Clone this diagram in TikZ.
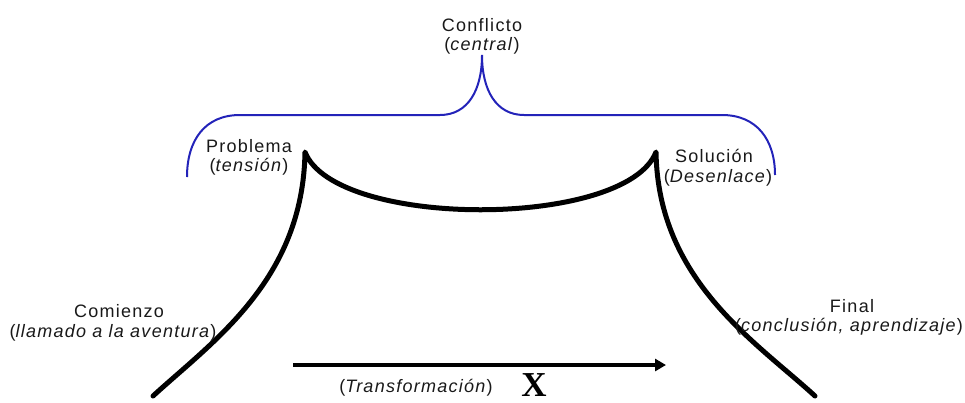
\documentclass[tikz,border=0pt]{standalone}
\usepackage{fontspec}
\setmainfont[LetterSpace=7]{Liberation Sans}
\newfontfamily\xfont{Liberation Serif}
\usetikzlibrary{arrows.meta}
\definecolor{bracecol}{RGB}{35,35,185}
\definecolor{txt}{RGB}{25,25,25}
\begin{document}
\begin{tikzpicture}[x=1pt,y=-1pt,
  lbl/.style={font=\fontsize{18}{20}\selectfont, text=txt, inner sep=0pt, anchor=base},
  story/.style={line width=5pt, line cap=round, line join=round},
  bracepath/.style={draw=bracecol, line width=2pt},
  arrowline/.style={line width=4pt, -{Triangle[length=11pt,width=12pt]}}
]
\useasboundingbox (0,0) rectangle (965,402);
% story curve
\coordinate (start) at (153,396);
\coordinate (prob) at (305,152);
\coordinate (sol) at (656,152);
\coordinate (fin) at (815,396);
\draw[story] (start) .. controls (213,341) and (303,280) .. (prob)
  .. controls (335,229) and (626,229) .. (sol)
  .. controls (658,280) and (755,341) .. (fin);
% brace
\coordinate (bl) at (187,177);
\coordinate (br) at (775,175);
\coordinate (tip) at (482,55);
\draw[bracepath] (bl) .. controls (187,140) and (205,115) .. (240,115) -- (440,115)
  .. controls (468,115) and (482,90) .. (tip)
  .. controls (482,90) and (496,115) .. (524,115) -- (722,115)
  .. controls (757,115) and (775,140) .. (br);
% arrow
\coordinate (a0) at (293,365);
\coordinate (a1) at (666,365);
\draw[arrowline] (a0) -- (a1);
% labels
\node[lbl] (conf1) at (482,31) {Conflicto};
\node[lbl] (conf2) at (482,50) {(\textit{central})};
\node[lbl] (prob1) at (249,152) {Problema};
\node[lbl] (prob2) at (249,171) {(\textit{tensión})};
\node[lbl] (sol1) at (714,162) {Solución};
\node[lbl] (sol2) at (718,182) {(\textit{Desenlace})};
\node[lbl] (com1) at (119,317) {Comienzo};
\node[lbl] (com2) at (113,337) {(\textit{llamado a la aventura})};
\node[lbl] (fin1) at (852,312) {Final};
\node[lbl] (fin2) at (849,331) {(\textit{conclusión, aprendizaje})};
\node[lbl] (trans) at (416,392) {(\textit{Transformación})};
\node[font=\xfont\bfseries\fontsize{35}{35}\selectfont, inner sep=0pt, anchor=base] (x) at (534,396) {X};
\end{tikzpicture}
\end{document}
